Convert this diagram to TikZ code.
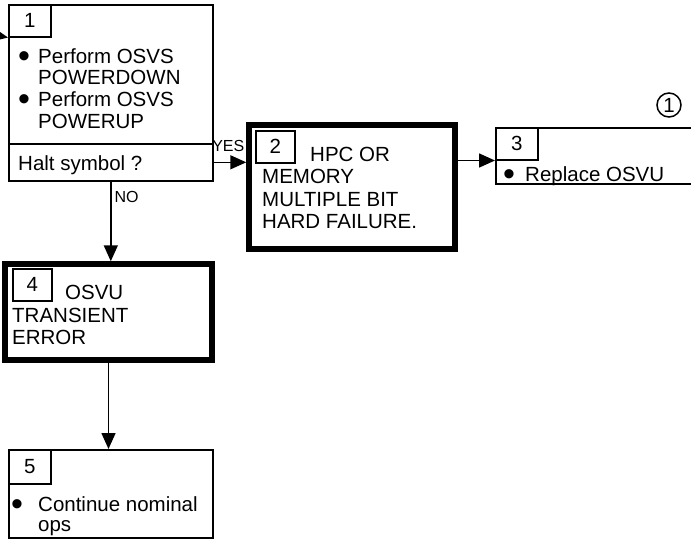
\documentclass[tikz,border=0pt]{standalone}
\usepackage{fontspec}
\setmainfont{Liberation Sans}
\usetikzlibrary{arrows.meta,positioning}

% bullet item with the text set at a fixed indent
\newcommand{\itm}[2][20pt]{\makebox[#1][l]{\raisebox{-4.5pt}{\fontsize{34}{34}\selectfont\textbullet}}#2}

\begin{document}
\begin{tikzpicture}[
    x=1pt, y=-1pt,
    every node/.style={inner sep=0pt},
    box/.style={rectangle, draw, line width=1.6pt, anchor=north west},
    heavybox/.style={rectangle, draw, line width=5.5pt, anchor=north west},
    numbox/.style={rectangle, draw, line width=1.5pt, anchor=north west, minimum width=42pt, minimum height=32pt, font=\fontsize{20.5}{22}\selectfont},
    txt/.style={anchor=north west, align=left, font=\fontsize{20.5}{21.7}\selectfont},
    small/.style={font=\fontsize{16}{17}\selectfont},
    arrow/.style={-{Triangle[length=16pt,width=14pt]}, line width=1.6pt}
]
\clip (0,0) rectangle (691,539);

% Step 1 with the decision part
\node[box, minimum width=204pt, minimum height=139pt] (step1) at (8,4) {};
\node[box, minimum width=204pt, minimum height=37pt] (halt) at (8,143) {};
\node[numbox] (n1) at (8,4) {1};
\node[txt] (t1) at (18,48) {\itm{Perform OSVS}\\\hspace*{20pt}POWERDOWN\\
    \itm{Perform OSVS}\\\hspace*{20pt}POWERUP};
\node[txt] (thalt) at (18,155) {Halt symbol ?};

% Step 2
\node[heavybox, minimum width=206pt, minimum height=124pt] (step2) at (246.25,122.25) {};
\node[numbox, minimum width=39pt] (n2) at (255,130) {2};
\node[txt, font=\fontsize{20.5}{22.3}\selectfont] (t2) at (262,147) {\hspace*{48pt}HPC OR\\MEMORY\\MULTIPLE BIT\\HARD FAILURE.};

% Step 3
\node[box, minimum width=225pt, minimum height=56pt] (step3) at (495,127) {};
\node[numbox] (n3) at (495,127) {3};
\node[txt] (t3) at (503,166) {\itm[22pt]{Replace OSVU}};
\node[circle, draw, line width=1.5pt, minimum size=24pt, font=\fontsize{20.5}{22}\selectfont] (ref1) at (669,105) {1};

% Step 4
\node[heavybox, minimum width=207pt, minimum height=96pt] (step4) at (2.25,261.25) {};
\node[numbox, minimum width=39pt] (n4) at (12,268) {4};
\node[txt, font=\fontsize{20.5}{22.5}\selectfont] (t4) at (12,285) {\hspace*{53pt}OSVU\\TRANSIENT\\ERROR};

% Step 5
\node[box, minimum width=204pt, minimum height=88pt] (step5) at (8,449) {};
\node[numbox, minimum height=34pt] (n5) at (8,449) {5};
\node[txt, font=\fontsize{20.5}{20}\selectfont] (t5) at (11,496) {\itm[27pt]{Continue nominal}\\\hspace*{27pt}ops};

% Arrows
\coordinate (entry) at (0,36);
\draw[arrow] (entry) -- (n1.south west);
\draw[arrow] (halt.east) -- (halt.east -| step2.west) node[small, pos=0.45, above=10pt] (yes) {YES};
\draw[arrow] (halt.south) -- (halt.south |- step4.north) node[small, pos=0.19, right=3pt] (no) {NO};
\draw[arrow] (step2.east |- n3.south west) -- (n3.south west);
\draw[arrow] (step4.south) -- (step4.south |- step5.north);

\end{tikzpicture}
\end{document}
